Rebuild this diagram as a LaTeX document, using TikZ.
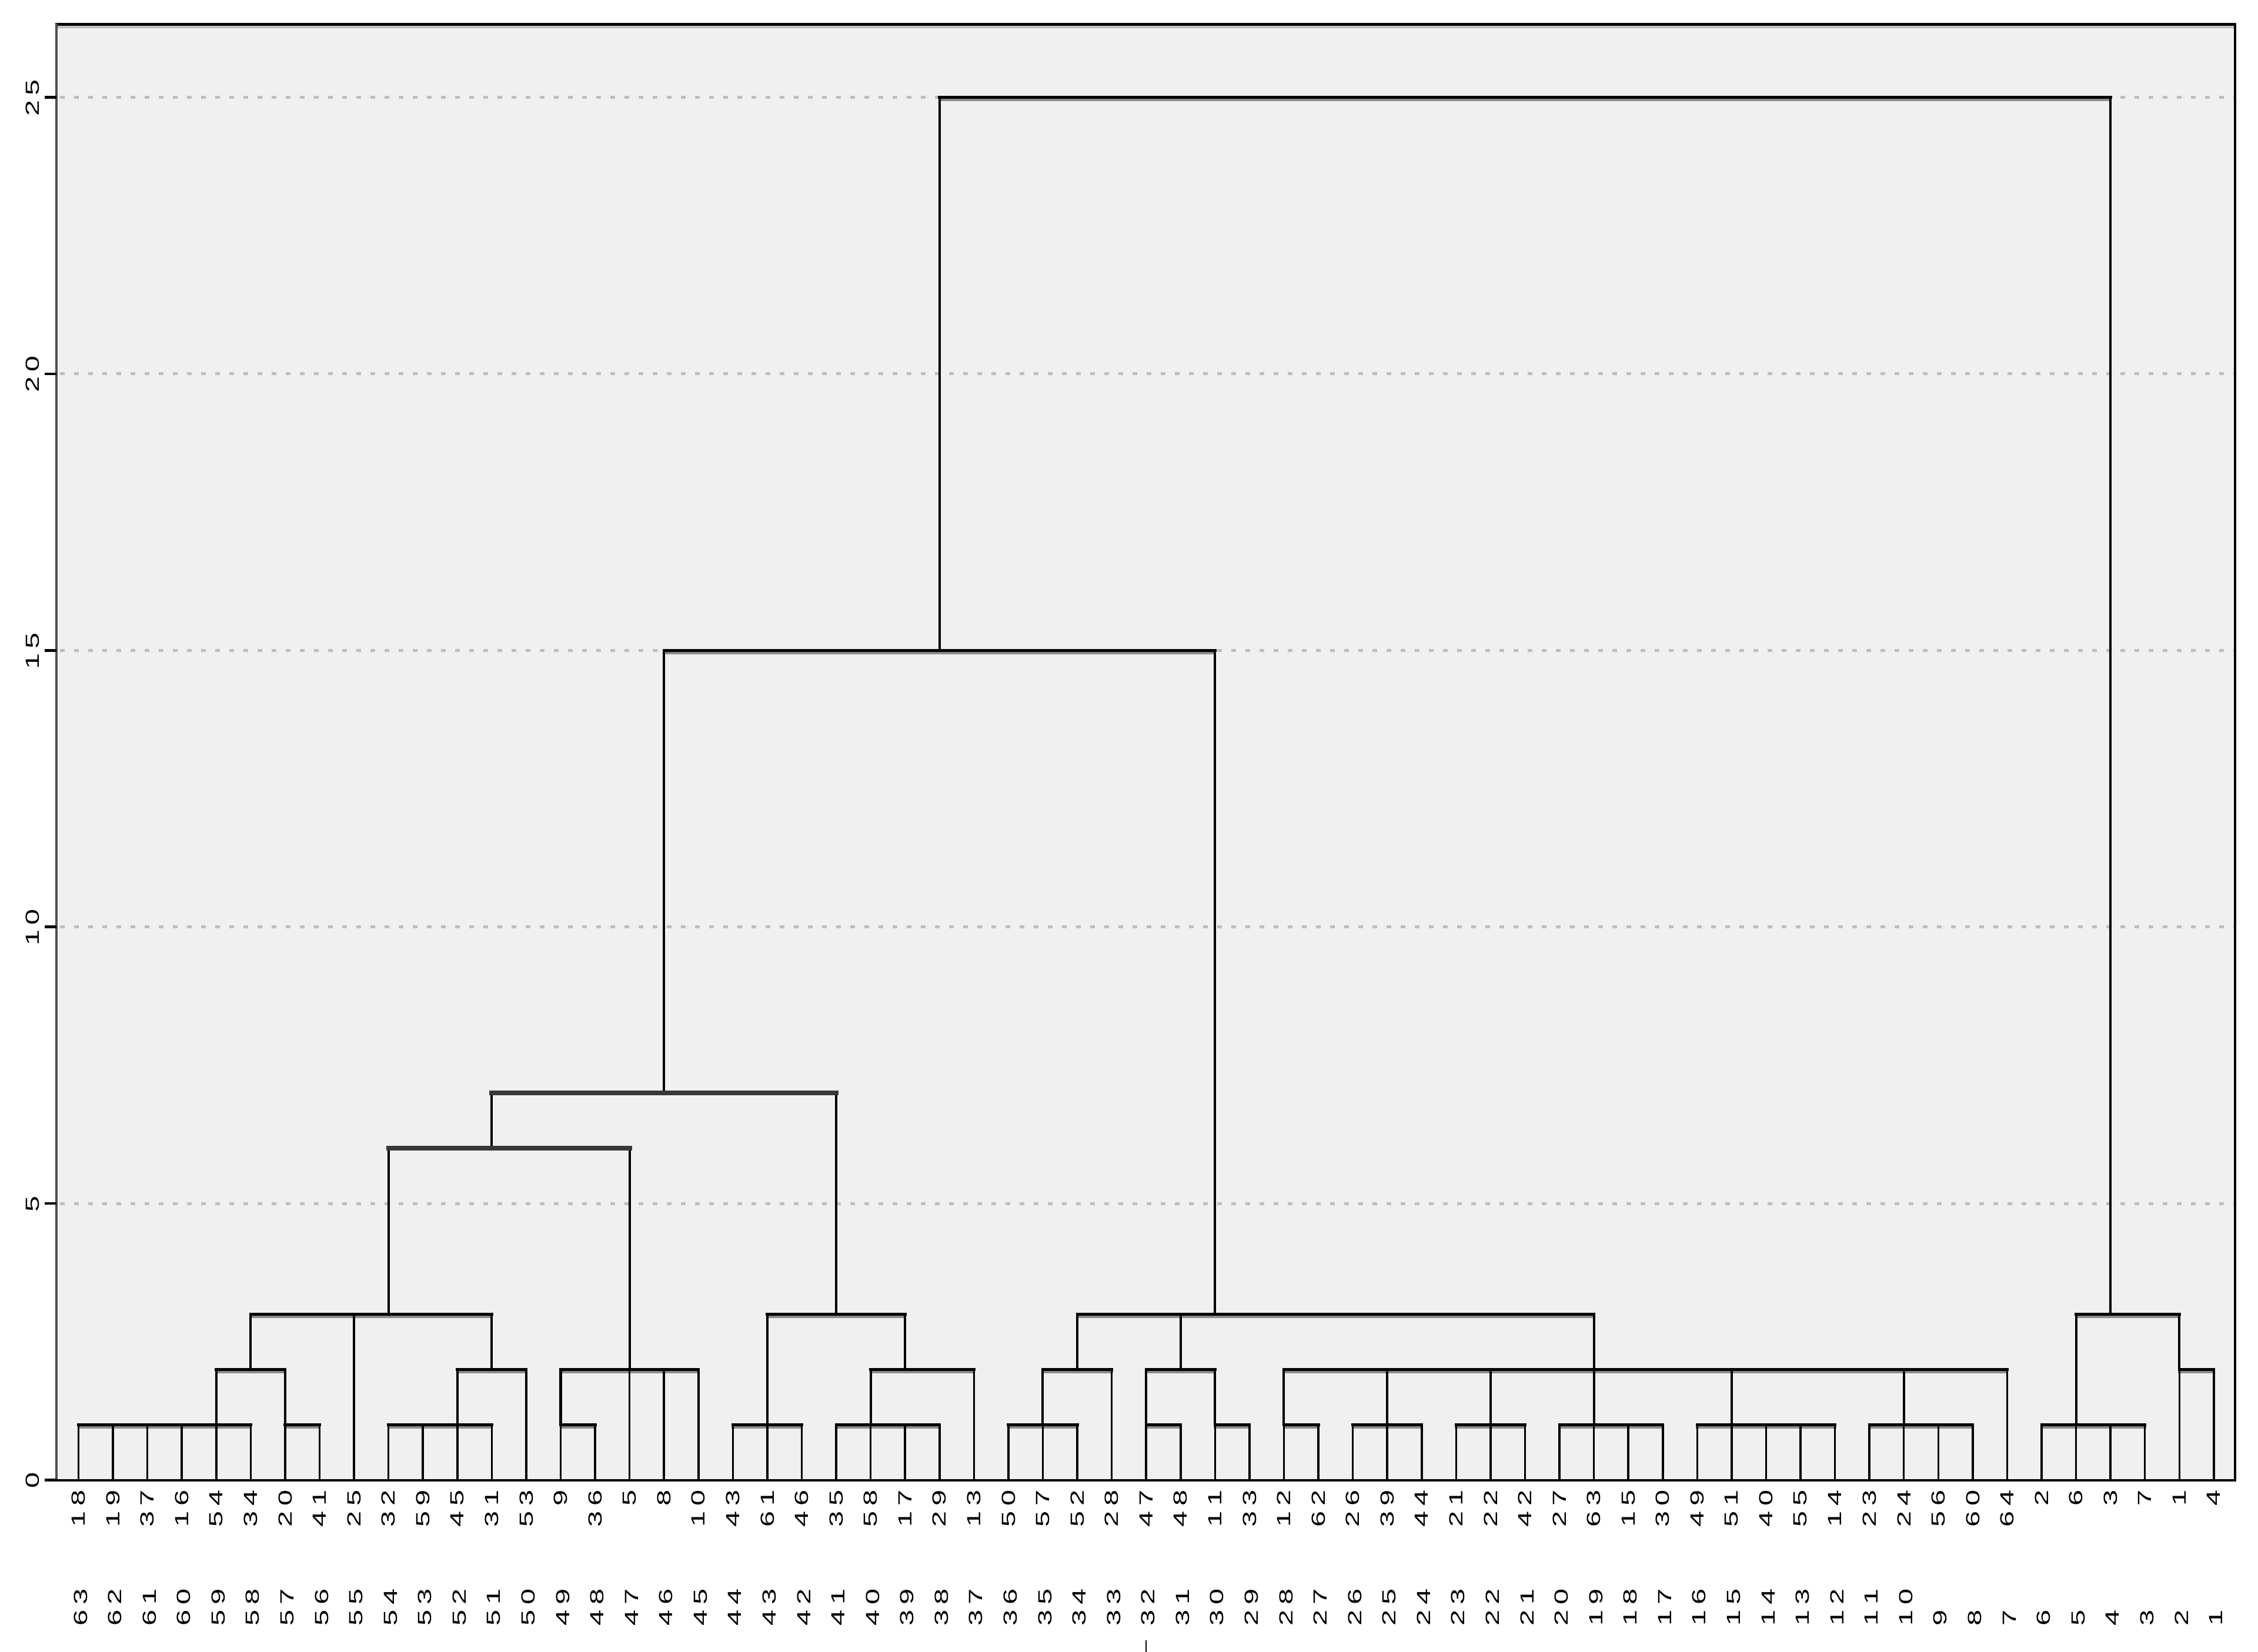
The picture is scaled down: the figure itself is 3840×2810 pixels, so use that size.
\documentclass[tikz,border=0pt]{standalone}
\usepackage{fontspec}
\setmainfont{Liberation Sans}
\definecolor{plotbg}{HTML}{F0F0F0}
\definecolor{gridc}{HTML}{BEBEBE}
\definecolor{shadowc}{HTML}{8C8C8C}
\definecolor{thickc}{HTML}{383838}
\definecolor{frameL}{HTML}{505050}
\newcommand\spnum[1]{\ifnum#1>9 \the\numexpr(#1-5)/10\relax\kern0.167em\the\numexpr#1-10*((#1-5)/10)\relax\else#1\fi}
\newcommand\lbl[1]{\scalebox{1.5}[1]{\spnum{#1}}}
\newcommand\clnode[3]{\coordinate (#1) at ({133.5+58.57*#2},{2517.5-94.08*#3});}
\newcommand\treelinks{%
\foreach \k in {0,...,5}{\lkL{L\k}{N1}}%
\lkL{L6}{N2}\lkL{L7}{N2}%
\lkN{N1}{N3}\lkN{N2}{N3}%
\foreach \k in {9,...,12}{\lkL{L\k}{N4}}%
\lkN{N4}{N5}\lkL{L13}{N5}%
\lkN{N3}{N6}\lkL{L8}{N6}\lkN{N5}{N6}%
\lkL{L14}{N7}\lkL{L15}{N7}%
\lkN{N7}{N8}\lkL{L16}{N8}\lkL{L17}{N8}\lkL{L18}{N8}%
\lkT{N6}{N9}\lkT{N8}{N9}%
\foreach \k in {19,20,21}{\lkL{L\k}{N10}}%
\foreach \k in {22,...,25}{\lkL{L\k}{N11}}%
\lkN{N11}{N12}\lkL{L26}{N12}%
\lkN{N10}{N13}\lkN{N12}{N13}%
\lkT{N9}{N14}\lkT{N13}{N14}%
\foreach \k in {27,28,29}{\lkL{L\k}{N15}}%
\lkN{N15}{N16}\lkL{L30}{N16}%
\lkL{L31}{N17}\lkL{L32}{N17}%
\lkL{L33}{N18}\lkL{L34}{N18}%
\lkN{N17}{N19}\lkN{N18}{N19}%
\lkL{L35}{N21}\lkL{L36}{N21}%
\foreach \k in {37,38,39}{\lkL{L\k}{N22}}%
\foreach \k in {40,41,42}{\lkL{L\k}{N23}}%
\foreach \k in {43,...,46}{\lkL{L\k}{N24}}%
\foreach \k in {47,...,51}{\lkL{L\k}{N25}}%
\foreach \k in {52,...,55}{\lkL{L\k}{N26}}%
\foreach \k in {21,...,26}{\lkN{N\k}{N20}}%
\lkL{L56}{N20}%
\lkN{N16}{N27}\lkN{N19}{N27}\lkN{N20}{N27}%
\lkN{N14}{N28}\lkN{N27}{N28}%
\foreach \k in {57,...,60}{\lkL{L\k}{N29}}%
\lkL{L61}{N30}\lkL{L62}{N30}%
\lkN{N29}{N31}\lkN{N30}{N31}%
\lkN{N28}{R}\lkN{N31}{R}%
}
\begin{document}
\begin{tikzpicture}[x=0.1mm,y=-0.1mm,
  lab/.style={font=\fontsize{9.2}{10}\selectfont, inner sep=0pt, outer sep=0pt, rotate=90},
  labtop/.style={lab, anchor=east},
  labbot/.style={lab, anchor=west},
  ylab/.style={lab, anchor=center},
  hline/.style={line width=1.4pt, line cap=rect, black},
  hthick/.style={line width=2.3pt, line cap=rect, thickc},
  hshadow/.style={line width=1.1pt, line cap=rect, shadowc, transform canvas={yshift=-1.3pt}},
  vleaf/.style={line width=1.0pt, black},
  vclus/.style={line width=1.15pt, black},
  gridln/.style={gridc, line width=1.4pt, dash pattern=on 0.8mm off 1.6mm},
  tickln/.style={line width=1.28pt, black},
  frameln/.style={line width=1.28pt, black}]
\useasboundingbox (0,0) rectangle (3840,2810);
\fill[white] (0,0) rectangle (3840,2810);
\fill[plotbg] (96,42) rectangle (3801,2518);
% grid lines
\foreach \h in {5,10,15,20,25}
  \draw[gridln] (102,{2517.5-94.08*\h}) -- (3798,{2517.5-94.08*\h});
% frame
\draw[line width=1.1pt, gray!55] (97,46.5) -- (3799,46.5);
\draw[frameln] (94,41.7) -- (3803,41.7);
\draw[line width=1.2pt, frameL] (96,40) -- (96,2518);
\draw[frameln] (3801,40) -- (3801,2520);
\draw[line width=1.4pt] (94,2518) -- (3803,2518);
% y ticks and labels
\foreach \h in {0,5,...,25}{
  \draw[tickln] (76,{2517.5-94.08*\h}) -- (96,{2517.5-94.08*\h});
  \node[ylab] (y\h) at (55.5,{2518.5-94.08*\h}) {\lbl{\h}};
}
% leaves
\foreach \i in {0,...,62} \coordinate (L\i) at ({133.5+58.57*\i},2517.5);
% cluster junctions
\clnode{N1}{4}{1} \clnode{N2}{6}{1} \clnode{N3}{5}{2} \clnode{N4}{11}{1}
\clnode{N5}{12}{2} \clnode{N6}{9}{3} \clnode{N7}{14}{1} \clnode{N8}{16}{2}
\clnode{N9}{12}{6} \clnode{N10}{20}{1} \clnode{N11}{23}{1} \clnode{N12}{24}{2}
\clnode{N13}{22}{3} \clnode{N14}{17}{7} \clnode{N15}{28}{1} \clnode{N16}{29}{2}
\clnode{N17}{31}{1} \clnode{N18}{33}{1} \clnode{N19}{32}{2} \clnode{N20}{44}{2}
\clnode{N21}{35}{1} \clnode{N22}{38}{1} \clnode{N23}{41}{1} \clnode{N24}{44}{1}
\clnode{N25}{48}{1} \clnode{N26}{53}{1} \clnode{N27}{33}{3} \clnode{N28}{25}{15}
\clnode{N29}{58}{1} \clnode{N30}{61}{2} \clnode{N31}{59}{3} \clnode{R}{42}{25}
% pass 1: shadows
\def\lkL#1#2{\draw[hshadow] (#1 |- #2) -- (#2);}
\def\lkN#1#2{\draw[hshadow] (#1 |- #2) -- (#2);}
\def\lkT#1#2{}
\treelinks
% pass 2: verticals
\def\lkL#1#2{\draw[vleaf] (#1) -- (#1 |- #2);}
\def\lkN#1#2{\draw[vclus] (#1) -- (#1 |- #2);}
\def\lkT#1#2{\draw[vclus] (#1) -- (#1 |- #2);}
\treelinks
% pass 3: horizontals
\def\lkL#1#2{\draw[hline] (#1 |- #2) -- (#2);}
\def\lkN#1#2{\draw[hline] (#1 |- #2) -- (#2);}
\def\lkT#1#2{\draw[hthick] (#1 |- #2) -- (#2);}
\treelinks
% leaf labels
\foreach \lab [count=\i from 0] in {18,19,37,16,54,34,20,41,25,32,59,45,31,53,9,36,5,8,10,43,61,46,35,58,17,29,13,50,57,52,28,47,48,11,33,12,62,26,39,44,21,22,42,27,63,15,30,49,51,40,55,14,23,24,56,60,64,2,6,3,7,1,4}
  \node[labtop] (t\i) at ({133.5+58.57*\i},2535) {\lbl{\lab}};
\foreach \i in {0,...,62}{
  \pgfmathtruncatemacro\v{63-\i}
  \node[labbot] (s\i) at ({137+58.57*\i},2765) {\lbl{\v}};
}
% small mark below
\coordinate (cur) at ({133.5+58.57*31},2790);
\coordinate (curb) at ({133.5+58.57*31},2810);
\draw[line width=0.7pt] (cur) -- (curb);
\end{tikzpicture}
\end{document}
